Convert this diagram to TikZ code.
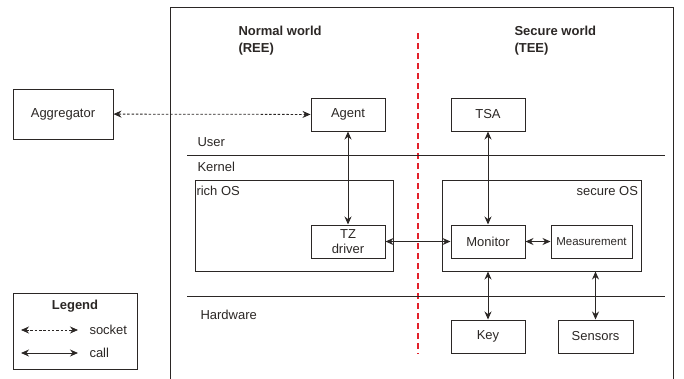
\documentclass[tikz,border=0pt]{standalone}
\usepackage{fontspec}
\setmainfont{Liberation Sans}
\usepackage{tikz}
\usetikzlibrary{positioning,arrows.meta}

\definecolor{ink}{RGB}{43,39,37}
\definecolor{worldred}{RGB}{227,32,42}

\begin{document}
\begin{tikzpicture}[x=1pt, y=-1pt, line width=1pt, color=ink,
  every node/.style = {font=\fontsize{13}{15}\selectfont, inner sep=0pt},
  box/.style = {shape=rectangle, draw, minimum width=74pt, minimum height=33pt, align=center},
  osbox/.style = {shape=rectangle, draw, minimum height=91pt},
  lbl/.style = {anchor=west},
  call/.style = {{Stealth[length=8pt,width=7pt]}-{Stealth[length=8pt,width=7pt]}},
  socket/.style = {call, line width=0.8pt, dash pattern=on 2.5pt off 1.8pt},
  divider/.style = {draw=worldred, line width=2pt, dash pattern=on 6pt off 4pt}]
    \useasboundingbox (0,0) rectangle (684,378);
    % frame of the device, open at the bottom
    \draw (170.5,380) -- (170.5,7) -- (673.5,7) -- (673.5,380);
    \path[divider] (417.5,33) -- (417.5,354);
    \node[lbl, anchor=north west, align=left, font=\fontsize{13}{16.5}\selectfont\bfseries] (ree) at (238,26) {Normal world\\(REE)};
    \node[lbl, anchor=north west, align=left, font=\fontsize{13}{16.5}\selectfont\bfseries] (tee) at (514,26) {Secure world\\(TEE)};
    % layers
    \draw (187,155) -- (665,155);
    \draw (187,296) -- (665,296);
    \node[lbl] (user) at (197,142.5) {User};
    \node[lbl] (kernel) at (197,167) {Kernel};
    \node[lbl] (hw) at (200,314.5) {Hardware};
    % boxes
    \node[box, minimum width=100pt, minimum height=50pt] (aggregator) at (63,114) {Aggregator};
    \node[box] (agent) at (348,114.5) {Agent};
    \node[box] (tsa) at (488,114.5) {TSA};
    \node[osbox, minimum width=198pt] (richos) at (294,225.5) {};
    \node[lbl, anchor=north west] at ([xshift=1.5pt,yshift=-6pt]richos.north west) {rich OS};
    \node[osbox, minimum width=199pt] (secos) at (541.5,225.5) {};
    \node[lbl, anchor=north east] at ([xshift=-3pt,yshift=-6pt]secos.north east) {secure OS};
    \node[box, font=\fontsize{13}{14.5}\selectfont] (tz) at (348,241.5) {TZ\\driver};
    \node[box] (monitor) at (488,241.5) {Monitor};
    \node[box, minimum width=81pt, font=\fontsize{11.5}{13}\selectfont] (measure) at (591.5,241.5) {Measurement};
    \node[box] (key) at (488,336.5) {Key};
    \node[box, minimum width=75pt] (sensors) at (595.5,336.5) {Sensors};
    % connections
    \draw[socket] (aggregator) -- (agent);
    \draw[call] (agent) -- (tz);
    \draw[call] (tsa) -- (monitor);
    \draw[call] (tz) -- (monitor);
    \draw[call] (monitor) -- (measure);
    \draw[call] (secos.south -| key) -- (key);
    \draw[call] (secos.south -| sensors) -- (sensors);
    % legend
    \node[box, minimum width=124pt, minimum height=76pt] (legend) at (75,331) {};
    \node[font=\fontsize{13}{15}\selectfont\bfseries] (legendtitle) at (75,306) {Legend};
    \coordinate (s1) at (21,330);
    \coordinate (s2) at (78,330);
    \coordinate (c1) at (21,353);
    \coordinate (c2) at (78,353);
    \draw[socket] (s1) -- (s2);
    \draw[call] (c1) -- (c2);
    \node[lbl] (sockettxt) at (89,329.5) {socket};
    \node[lbl] (calltxt) at (89,352.5) {call};
\end{tikzpicture}
\end{document}
